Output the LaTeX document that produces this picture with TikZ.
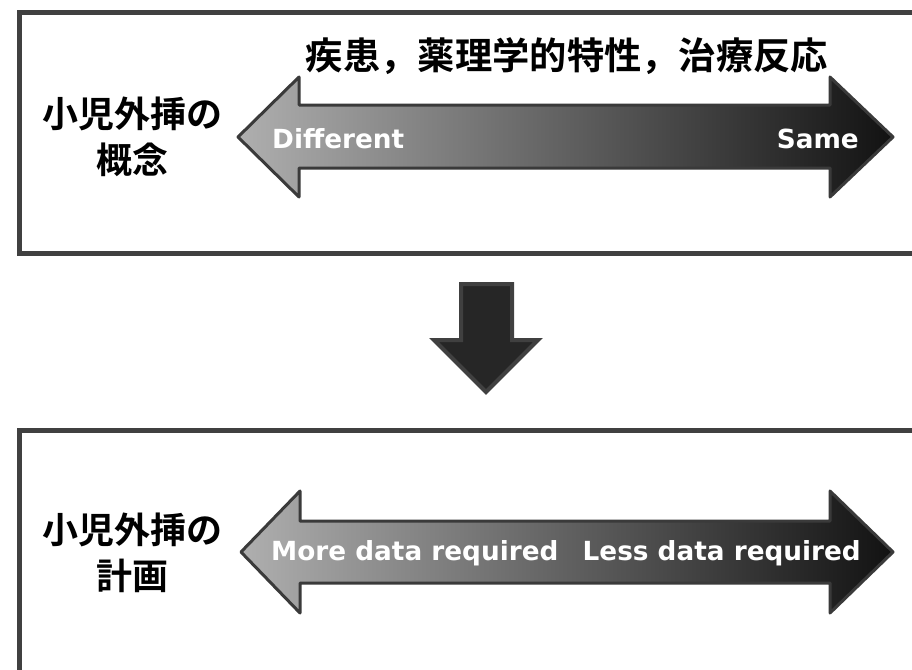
\documentclass[tikz,border=0pt]{standalone}
\usepackage{fontspec}
\setmainfont{DejaVu Sans}
\newfontfamily\jpfont{Noto Sans CJK JP}[BoldFont={* Bold}]
\usetikzlibrary{shadings}
\definecolor{boxline}{RGB}{64,64,64}
\definecolor{arrline}{RGB}{58,58,58}
\definecolor{gradlight}{RGB}{175,175,175}
\definecolor{graddark}{RGB}{18,18,18}
\definecolor{downfill}{RGB}{38,38,38}
\tikzset{
  panel/.style={draw=boxline, line width=5pt, fill=white},
  dblarrow/.style={draw=arrline, line width=3pt, line join=round, left color=gradlight, right color=graddark},
  downarrow/.style={draw=boxline, line width=4pt, line join=miter, fill=downfill},
  jplabel/.style={font=\jpfont\bfseries\fontsize{36}{40}\selectfont, text=black, inner sep=0pt},
  jptitle/.style={font=\jpfont\bfseries\fontsize{37.3}{40}\selectfont, text=black, inner sep=0pt},
  entext/.style={font=\bfseries\fontsize{26.3}{30}\selectfont, text=white, inner sep=0pt},
}
\begin{document}
\begin{tikzpicture}[x=1pt, y=-1pt]
\useasboundingbox (0,0) rectangle (912,669);
\clip (0,0) rectangle (912,669);
% panels
\draw[panel] (19.5,12.5) rectangle (930,253);
\draw[panel] (19.5,430.5) rectangle (930,700);
% top double arrow
\draw[dblarrow] (238,137) -- (299,77) -- (299,105) -- (830,105) -- (830,77) -- (893,137)
  -- (830,197) -- (830,168) -- (299,168) -- (299,197) -- cycle;
% bottom double arrow
\draw[dblarrow] (241,552) -- (300,491) -- (300,521) -- (830,521) -- (830,491) -- (893,552)
  -- (830,613) -- (830,583) -- (300,583) -- (300,613) -- cycle;
% down arrow
\draw[downarrow] (461,284) -- (512,284) -- (512,340) -- (538,340) -- (486,392) -- (434,340) -- (461,340) -- cycle;
% texts
\node[jptitle] (title) at (567,56) {疾患，薬理学的特性，治療反応};
\node[jplabel] (c1) at (132,114) {小児外挿の};
\node[jplabel] (c2) at (132,160) {概念};
\node[jplabel] (p1) at (132,530) {小児外挿の};
\node[jplabel] (p2) at (132,576) {計画};
\node[entext, anchor=west] (diff) at (272,139) {Different};
\node[entext, anchor=east] (same) at (859,139) {Same};
\node[entext, anchor=west] (more) at (271,553) {More data required};
\node[entext, anchor=east] (less) at (861,553) {Less data required};
\end{tikzpicture}
\end{document}
